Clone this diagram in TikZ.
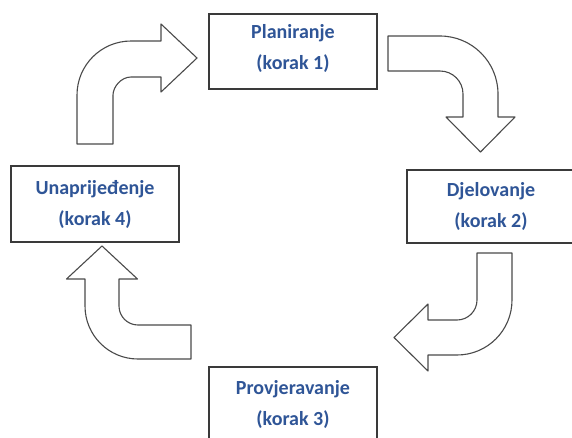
\documentclass[tikz,border=0pt]{standalone}
\usepackage{fontspec}
\setmainfont{Carlito}
\definecolor{txtblue}{HTML}{2F5597}
\definecolor{edgegray}{HTML}{3A3A3A}
\definecolor{arrowgray}{HTML}{4A4A4A}
\begin{document}
\begin{tikzpicture}[x=1pt,y=-1pt,
  stepbox/.style={draw=edgegray, line width=1.2pt, fill=white, minimum width=168pt,
    minimum height=75pt, inner sep=0pt, align=center,
    font=\fontsize{20}{31}\selectfont\bfseries, text=txtblue},
  steptext/.style={inner sep=0pt, align=center,
    font=\fontsize{20}{31}\selectfont\bfseries, text=txtblue},
  bent/.style={draw=arrowgray, line width=1.1pt, fill=white, line join=round}]
\useasboundingbox (0,0) rectangle (572,437);
\clip (0,0) rectangle (572,437);
\fill[white] (0,0) rectangle (572,437);

% boxes
\node[stepbox] (plan) at (293,51.5) {};
\node[steptext] (plantext) at (293,48) {Planiranje\\(korak 1)};
\node[stepbox, minimum height=73pt] (djel) at (491,206.5) {Djelovanje\\(korak 2)};
\node[stepbox] (prov) at (293,404.5) {Provjeravanje\\(korak 3)};
\node[stepbox, minimum height=76pt] (unap) at (95,204) {Unaprije\dj enje\\(korak 4)};

% arrow 4 -> 1 (up then right)
\draw[bent] (113,144) -- (77,144) -- (77,95)
  .. controls (77,65.2) and (101.2,41) .. (131,41) -- (161,41) -- (161,24)
  -- (197,58) -- (161,92) -- (161,77) -- (131,77)
  .. controls (121.1,77) and (113,86.9) .. (113,95) -- cycle;

% arrow 1 -> 2 (right then down)
\draw[bent] (388,36) -- (440,36)
  .. controls (472,36) and (498,62) .. (498,94) -- (498,117) -- (515,117)
  -- (480.5,152) -- (446,117) -- (463,117) -- (463,94)
  .. controls (463,81.3) and (452.7,71) .. (440,71) -- (388,71) -- cycle;

% arrow 2 -> 3 (down then left)
\draw[bent] (477,253) -- (512,253) -- (512,300)
  .. controls (512,330.4) and (487.4,355) .. (457,355) -- (428,355) -- (428,371)
  -- (394,337.5) -- (428,304) -- (428,320) -- (457,320)
  .. controls (468,320) and (477,311) .. (477,300) -- cycle;

% arrow 3 -> 4 (left then up)
\draw[bent] (191,325) -- (191,359) -- (138,359)
  .. controls (108.7,359) and (85,335.3) .. (85,306) -- (85,279) -- (66.5,279)
  -- (102,246) -- (137.5,279) -- (119,279) -- (119,306)
  .. controls (119,316.5) and (127.5,325) .. (138,325) -- cycle;
\end{tikzpicture}
\end{document}
